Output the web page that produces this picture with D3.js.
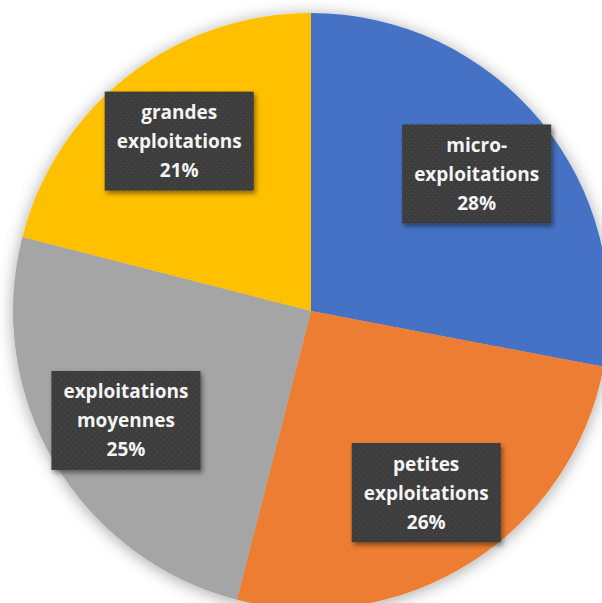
<!DOCTYPE html>
<html>
<head>
<meta charset="utf-8">
<script src="https://cdn.jsdelivr.net/npm/d3@7"></script>
<style>
  body { margin: 0; background: #fff; }
  svg { display: block; }
</style>
</head>
<body>
<script>
// categories and shares (%)
var categories = ["micro-\nexploitations", "petites\nexploitations", "exploitations\nmoyennes", "grandes\nexploitations"];
var values = [28, 26, 25, 21];
var colors = ["#4472C4", "#ED7D31", "#A5A5A5", "#FFC000"];

var width = 602, height = 603;
var cx = 311, cy = 311, radius = 298;
var labelRadius = 215;

var svg = d3.select("body").append("svg")
  .attr("width", width)
  .attr("height", height);

var defs = svg.append("defs");
var shadow = defs.append("filter").attr("id", "shadow")
  .attr("x", "-20%").attr("y", "-20%").attr("width", "140%").attr("height", "140%");
shadow.append("feDropShadow")
  .attr("dx", 0).attr("dy", 2).attr("stdDeviation", 8)
  .attr("flood-color", "#000").attr("flood-opacity", 0.35);

var boxShadow = defs.append("filter").attr("id", "boxshadow")
  .attr("x", "-20%").attr("y", "-20%").attr("width", "140%").attr("height", "140%");
boxShadow.append("feDropShadow")
  .attr("dx", 2).attr("dy", 3).attr("stdDeviation", 2.5)
  .attr("flood-color", "#000").attr("flood-opacity", 0.45);

// dotted fill for the label boxes
var pat = defs.append("pattern").attr("id", "dots")
  .attr("width", 6).attr("height", 6).attr("patternUnits", "userSpaceOnUse");
pat.append("rect").attr("width", 6).attr("height", 6).attr("fill", "#3c3c3c");
pat.append("rect").attr("x", 1).attr("y", 1).attr("width", 1).attr("height", 1).attr("fill", "#555");
pat.append("rect").attr("x", 4).attr("y", 4).attr("width", 1).attr("height", 1).attr("fill", "#555");

var pie = d3.pie().sort(null).value(function(d){ return d; });
var arc = d3.arc().innerRadius(0).outerRadius(radius);
var labelArc = d3.arc().innerRadius(labelRadius).outerRadius(labelRadius);

var g = svg.append("g").attr("transform", "translate(" + cx + "," + cy + ")");
var arcs = pie(values);

g.append("g").attr("filter", "url(#shadow)")
  .selectAll("path")
  .data(arcs)
  .enter()
  .append("path")
  .attr("d", arc)
  .attr("fill", function(d, i){ return colors[i]; });

var labels = g.selectAll(".label")
  .data(arcs)
  .enter()
  .append("g")
  .attr("class", "label")
  .attr("transform", function(d){ return "translate(" + labelArc.centroid(d) + ")"; });

var lineH = 29;
labels.each(function(d, i){
  var lab = d3.select(this);
  var lines = categories[i].split("\n").concat([values[i] + "%"]);
  var rect = lab.append("rect");
  var txt = lab.append("text")
    .attr("text-anchor", "middle")
    .attr("fill", "#f4f4f4")
    .style("font-family", "'Open Sans', sans-serif")
    .style("font-weight", "bold")
    .style("font-size", "19px");
  lines.forEach(function(l, k){
    txt.append("tspan")
      .attr("x", 0)
      .attr("y", (k - 1) * lineH + 7)
      .text(l);
  });
  var w = 0;
  txt.selectAll("tspan").each(function(){ w = Math.max(w, this.getComputedTextLength()); });
  var bw = w + 24, bh = 99;
  rect.attr("x", -bw / 2).attr("y", -bh / 2)
    .attr("width", bw).attr("height", bh)
    .attr("fill", "url(#dots)")
    .attr("filter", "url(#boxshadow)");
});
</script>
</body>
</html>
